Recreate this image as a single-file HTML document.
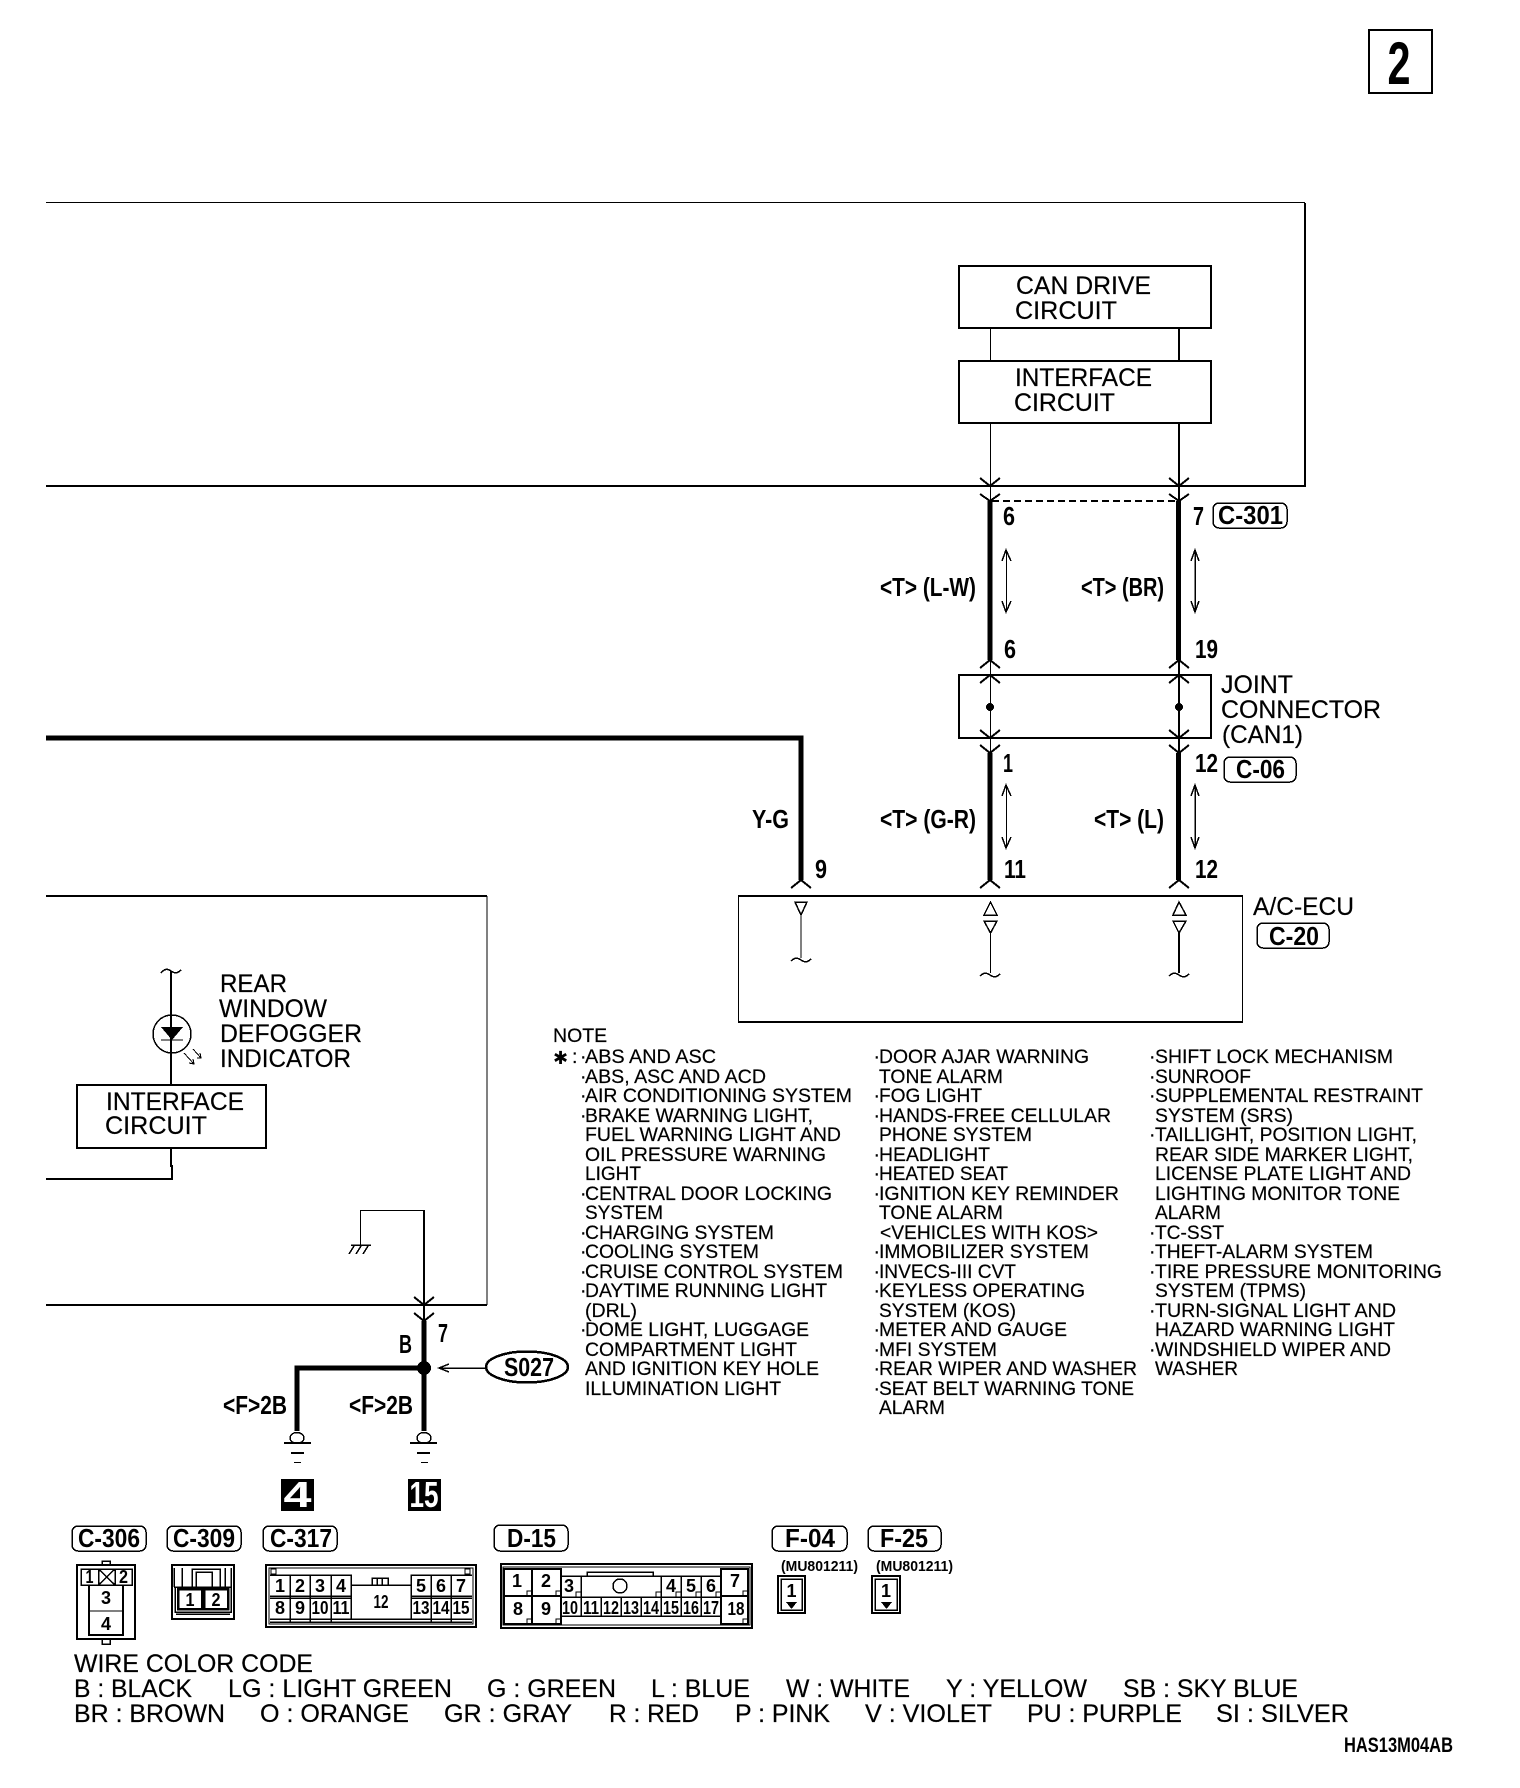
<!DOCTYPE html>
<html><head><meta charset="utf-8">
<style>
html,body{margin:0;padding:0;background:#fff}
svg{display:block;shape-rendering:crispEdges}
text{font-family:"Liberation Sans",sans-serif;fill:#000}
.r{font-size:24.6px;stroke:#000;stroke-width:.2}
.n{font-size:19.5px;stroke:#000;stroke-width:.2}
.b{font-size:26px;font-weight:bold}
.d{font-size:18px;font-weight:bold;text-anchor:middle}
.l{fill:none;stroke:#000}
</style></head><body>
<svg width="1520" height="1788" viewBox="0 0 1520 1788" xmlns="http://www.w3.org/2000/svg">
<!-- page number -->
<rect class="l" x="1369" y="30" width="63" height="63" stroke-width="2"/>
<text x="1399" y="84" font-size="60" font-weight="bold" text-anchor="middle" textLength="23" lengthAdjust="spacingAndGlyphs">2</text>

<!-- upper frame -->
<path class="l" stroke-width="1" d="M46 202.500H1305"/>
<path class="l" stroke-width="2" d="M1305 203V486H46"/>
<rect class="l" x="959" y="266" width="252" height="62" stroke-width="2"/>
<rect class="l" x="959" y="361" width="252" height="62" stroke-width="2"/>
<text class="r" x="1016" y="294" textLength="135" lengthAdjust="spacingAndGlyphs">CAN DRIVE</text>
<text class="r" x="1015" y="319" textLength="102" lengthAdjust="spacingAndGlyphs">CIRCUIT</text>
<text class="r" x="1015" y="386" textLength="137" lengthAdjust="spacingAndGlyphs">INTERFACE</text>
<text class="r" x="1014" y="411" textLength="101" lengthAdjust="spacingAndGlyphs">CIRCUIT</text>

<!-- CAN wires thin -->
<path class="l" stroke-width="1" d="M990.500 328V361M990.500 423V501"/>
<path class="l" stroke-width="2" d="M1179 328V361M1179 423V501"/>
<path class="l" stroke-width="2" d="M980 478L990 486L1000 478M980 494L990 501L1000 494M1169 478L1179 486L1189 478M1169 494L1179 501L1189 494"/>
<path class="l" stroke-width="2" stroke-dasharray="7 4" d="M992 501H1178"/>
<!-- thick -->
<path class="l" stroke-width="5" d="M990 501V660M1178.500 501V660M990 753V880M1178.500 753V880"/>
<path class="l" stroke-width="5" d="M46 738H801V880"/>
<!-- forks -->
<path class="l" stroke-width="2" d="M980 668L990 660L1000 668M1169 668L1179 660L1189 668M980 683L990 675L1000 683M1169 683L1179 675L1189 683M980 730L990 738L1000 730M1169 730L1179 738L1189 730M980 745L990 753L1000 745M1169 745L1179 753L1189 745M791 888L801 880L811 888M980 888L990 880L1000 888M1169 888L1179 880L1189 888"/>
<path class="l" stroke-width="1" d="M990.500 660V753"/>
<path class="l" stroke-width="2" d="M1179 660V753"/>
<rect class="l" x="959" y="675" width="252" height="63" stroke-width="2"/>
<circle cx="990" cy="707" r="4"/><circle cx="1179" cy="707" r="4"/>

<!-- double arrows -->
<path class="l" stroke-width="1" d="M1006.500 550V612"/>
<path class="l" stroke-width="1.500" d="M1002 561L1006 550L1011 561M1002 601L1006 612L1011 601"/>
<path class="l" stroke-width="1.500" d="M1195 550V612M1191 561L1195 550L1199 561M1191 601L1195 612L1199 601"/>
<path class="l" stroke-width="1" d="M1006.500 785V848"/>
<path class="l" stroke-width="1.500" d="M1002 796L1006 785L1011 796M1002 837L1006 848L1011 837"/>
<path class="l" stroke-width="1.500" d="M1195 785V848M1191 796L1195 785L1199 796M1191 837L1195 848L1199 837"/>

<!-- wire labels -->
<text class="b" x="1003" y="525" textLength="12" lengthAdjust="spacingAndGlyphs">6</text>
<text class="b" x="1193" y="525" textLength="11" lengthAdjust="spacingAndGlyphs">7</text>
<text class="b" x="1004" y="658" textLength="12" lengthAdjust="spacingAndGlyphs">6</text>
<text class="b" x="1195" y="658" textLength="23" lengthAdjust="spacingAndGlyphs">19</text>
<text class="b" x="1003" y="772" textLength="10" lengthAdjust="spacingAndGlyphs">1</text>
<text class="b" x="1195" y="772" textLength="23" lengthAdjust="spacingAndGlyphs">12</text>
<text class="b" x="815" y="878" textLength="12" lengthAdjust="spacingAndGlyphs">9</text>
<text class="b" x="1004" y="878" textLength="22" lengthAdjust="spacingAndGlyphs">11</text>
<text class="b" x="1195" y="878" textLength="23" lengthAdjust="spacingAndGlyphs">12</text>
<text class="b" x="880" y="596" textLength="96" lengthAdjust="spacingAndGlyphs">&lt;T&gt; (L-W)</text>
<text class="b" x="1081" y="596" textLength="83" lengthAdjust="spacingAndGlyphs">&lt;T&gt; (BR)</text>
<text class="b" x="752" y="828" textLength="37" lengthAdjust="spacingAndGlyphs">Y-G</text>
<text class="b" x="880" y="828" textLength="96" lengthAdjust="spacingAndGlyphs">&lt;T&gt; (G-R)</text>
<text class="b" x="1094" y="828" textLength="70" lengthAdjust="spacingAndGlyphs">&lt;T&gt; (L)</text>

<!-- pills -->
<g class="l" fill="none">
<rect class="l" x="1213" y="503" width="74" height="25" rx="6" stroke-width="1.500"/>
<rect class="l" x="1224" y="757" width="72" height="25" rx="6" stroke-width="1.500"/>
<rect class="l" x="1257" y="923" width="72" height="25" rx="6" stroke-width="1.500"/>
<rect class="l" x="72" y="1526" width="74" height="25" rx="6" stroke-width="1.500"/>
<rect class="l" x="167" y="1526" width="74" height="25" rx="6" stroke-width="1.500"/>
<rect class="l" x="263" y="1526" width="74" height="25" rx="6" stroke-width="1.500"/>
<rect class="l" x="494" y="1525" width="74" height="26" rx="6" stroke-width="1.500"/>
<rect class="l" x="772" y="1526" width="75" height="25" rx="6" stroke-width="1.500"/>
<rect class="l" x="868" y="1526" width="73" height="25" rx="6" stroke-width="1.500"/>
</g>
<text class="b" x="1218" y="524" textLength="65" lengthAdjust="spacingAndGlyphs">C-301</text>
<text class="b" x="1236" y="778" textLength="49" lengthAdjust="spacingAndGlyphs">C-06</text>
<text class="b" x="1269" y="945" textLength="50" lengthAdjust="spacingAndGlyphs">C-20</text>
<text class="b" x="78" y="1547" textLength="62" lengthAdjust="spacingAndGlyphs">C-306</text>
<text class="b" x="173" y="1547" textLength="62" lengthAdjust="spacingAndGlyphs">C-309</text>
<text class="b" x="270" y="1547" textLength="62" lengthAdjust="spacingAndGlyphs">C-317</text>
<text class="b" x="507" y="1547" textLength="49" lengthAdjust="spacingAndGlyphs">D-15</text>
<text class="b" x="785" y="1547" textLength="50" lengthAdjust="spacingAndGlyphs">F-04</text>
<text class="b" x="880" y="1547" textLength="48" lengthAdjust="spacingAndGlyphs">F-25</text>

<!-- joint text -->
<text class="r" x="1221" y="693" textLength="72" lengthAdjust="spacingAndGlyphs">JOINT</text>
<text class="r" x="1221" y="718" textLength="160" lengthAdjust="spacingAndGlyphs">CONNECTOR</text>
<text class="r" x="1222" y="743" textLength="81" lengthAdjust="spacingAndGlyphs">(CAN1)</text>
<text class="r" x="1253" y="915" textLength="101" lengthAdjust="spacingAndGlyphs">A/C-ECU</text>

<!-- ECU -->
<path class="l" stroke-width="1" d="M738.500 896V1022M1242.500 896V1022"/>
<path class="l" stroke-width="2" d="M738 896H1243M738 1022H1243"/>
<path class="l" stroke-width="1.500" d="M795 902H807L801 915ZM984 915H997L990.500 902ZM1173 915H1186L1179 902ZM984 921H997L990.500 933ZM1173 921H1186L1179 933Z"/>
<path class="l" stroke-width="1" d="M801 915V958M990.500 933V973"/>
<path class="l" stroke-width="2" d="M1179 933V973"/>
<path class="l" stroke-width="1.500" d="M791 961C795 957 798 958 801 960S807 963 811 959M980 976C984 972 987 973 990 975S996 978 1000 974M1169 976C1173 972 1176 973 1179 975S1185 978 1189 974"/>

<!-- lower-left frame -->
<path class="l" stroke-width="2" d="M46 896H487"/>
<path class="l" stroke-width="1" d="M487 896V1305"/>
<path class="l" stroke-width="2" d="M46 1305H487"/>
<text class="r" x="220" y="992" textLength="67" lengthAdjust="spacingAndGlyphs">REAR</text>
<text class="r" x="219" y="1017" textLength="108" lengthAdjust="spacingAndGlyphs">WINDOW</text>
<text class="r" x="220" y="1042" textLength="142" lengthAdjust="spacingAndGlyphs">DEFOGGER</text>
<text class="r" x="220" y="1067" textLength="131" lengthAdjust="spacingAndGlyphs">INDICATOR</text>
<path class="l" stroke-width="2" d="M171 971V1085"/>
<path class="l" stroke-width="1.500" d="M161 973C165 968 168 969 171 971S177 974 181 970"/>
<circle class="l" cx="172" cy="1034" r="19" stroke-width="1.500"/>
<path d="M161 1027H183L172 1040Z"/>
<path class="l" stroke-width="1" d="M161 1040H183M184 1053L194 1064M193 1049L201 1058M197 1058L201 1058L200 1053M189 1063L194 1064L193 1059"/>
<rect class="l" x="77" y="1085" width="189" height="63" stroke-width="2"/>
<text class="r" x="106" y="1110" textLength="138" lengthAdjust="spacingAndGlyphs">INTERFACE</text>
<text class="r" x="105" y="1134" textLength="102" lengthAdjust="spacingAndGlyphs">CIRCUIT</text>
<path class="l" stroke-width="2" d="M171 1148V1166H172V1179H46"/>
<path class="l" stroke-width="1" d="M424 1210.500H360.500V1245"/>
<path class="l" stroke-width="1.500" d="M351 1245H371M349 1254L354 1246M356 1254L361 1246M363 1254L368 1246"/>
<path class="l" stroke-width="2" d="M424 1210V1321M414 1297L424 1305L434 1297M414 1313L424 1321L434 1313"/>
<path class="l" stroke-width="5" d="M424 1321V1431M424 1368H297V1431"/>
<circle cx="424" cy="1368" r="7"/>
<ellipse class="l" cx="297" cy="1438" rx="7" ry="5.500" stroke-width="1.500"/>
<ellipse class="l" cx="424" cy="1438" rx="7" ry="5.500" stroke-width="1.500"/>
<path class="l" stroke-width="2" d="M284 1443H311M291 1453H304M410 1443H437M417 1453H430"/>
<path class="l" stroke-width="1" d="M294 1462.500H301M421 1462.500H428"/>
<text class="b" x="438" y="1342" textLength="10" lengthAdjust="spacingAndGlyphs">7</text>
<text class="b" x="399" y="1353" textLength="13" lengthAdjust="spacingAndGlyphs">B</text>
<text class="b" x="223" y="1414" textLength="64" lengthAdjust="spacingAndGlyphs">&lt;F&gt;2B</text>
<text class="b" x="349" y="1414" textLength="64" lengthAdjust="spacingAndGlyphs">&lt;F&gt;2B</text>
<ellipse class="l" cx="527" cy="1367" rx="41" ry="15.500" stroke-width="2.500"/>
<text class="b" x="504" y="1376" textLength="50" lengthAdjust="spacingAndGlyphs">S027</text>
<path class="l" stroke-width="1.500" d="M486 1368H439M449 1364L439 1368L449 1372"/>
<rect x="281" y="1479" width="33" height="32"/>
<rect x="408" y="1479" width="33" height="32"/>
<text x="297.500" y="1507" font-size="36" font-weight="bold" text-anchor="middle" textLength="28" lengthAdjust="spacingAndGlyphs" style="fill:#fff">4</text>
<text x="424" y="1507" font-size="36" font-weight="bold" text-anchor="middle" textLength="29" lengthAdjust="spacingAndGlyphs" style="fill:#fff">15</text>

<!-- notes -->
<text class="n" x="553" y="1042">NOTE</text>
<text x="553" y="1064" font-size="18" style="font-family:'DejaVu Sans',sans-serif;font-weight:bold">✱</text>
<text class="n" x="572" y="1063">:</text>
<g class="n">
<text class="n" x="580" y="1063">·</text><text class="n" x="585" y="1063" textLength="131" lengthAdjust="spacingAndGlyphs">ABS AND ASC</text>
<text class="n" x="580" y="1083">·</text><text class="n" x="585" y="1083" textLength="181" lengthAdjust="spacingAndGlyphs">ABS, ASC AND ACD</text>
<text class="n" x="580" y="1102">·</text><text class="n" x="585" y="1102" textLength="267" lengthAdjust="spacingAndGlyphs">AIR CONDITIONING SYSTEM</text>
<text class="n" x="580" y="1122">·</text><text class="n" x="585" y="1122" textLength="228" lengthAdjust="spacingAndGlyphs">BRAKE WARNING LIGHT,</text>
<text class="n" x="585" y="1141" textLength="256" lengthAdjust="spacingAndGlyphs">FUEL WARNING LIGHT AND</text>
<text class="n" x="585" y="1161" textLength="241" lengthAdjust="spacingAndGlyphs">OIL PRESSURE WARNING</text>
<text class="n" x="585" y="1180" textLength="56" lengthAdjust="spacingAndGlyphs">LIGHT</text>
<text class="n" x="580" y="1200">·</text><text class="n" x="585" y="1200" textLength="247" lengthAdjust="spacingAndGlyphs">CENTRAL DOOR LOCKING</text>
<text class="n" x="585" y="1219" textLength="78" lengthAdjust="spacingAndGlyphs">SYSTEM</text>
<text class="n" x="580" y="1239">·</text><text class="n" x="585" y="1239" textLength="189" lengthAdjust="spacingAndGlyphs">CHARGING SYSTEM</text>
<text class="n" x="580" y="1258">·</text><text class="n" x="585" y="1258" textLength="174" lengthAdjust="spacingAndGlyphs">COOLING SYSTEM</text>
<text class="n" x="580" y="1278">·</text><text class="n" x="585" y="1278" textLength="258" lengthAdjust="spacingAndGlyphs">CRUISE CONTROL SYSTEM</text>
<text class="n" x="580" y="1297">·</text><text class="n" x="585" y="1297" textLength="242" lengthAdjust="spacingAndGlyphs">DAYTIME RUNNING LIGHT</text>
<text class="n" x="585" y="1317" textLength="52" lengthAdjust="spacingAndGlyphs">(DRL)</text>
<text class="n" x="580" y="1336">·</text><text class="n" x="585" y="1336" textLength="224" lengthAdjust="spacingAndGlyphs">DOME LIGHT, LUGGAGE</text>
<text class="n" x="585" y="1356" textLength="212" lengthAdjust="spacingAndGlyphs">COMPARTMENT LIGHT</text>
<text class="n" x="585" y="1375" textLength="234" lengthAdjust="spacingAndGlyphs">AND IGNITION KEY HOLE</text>
<text class="n" x="585" y="1395" textLength="196" lengthAdjust="spacingAndGlyphs">ILLUMINATION LIGHT</text>

<text class="n" x="873.500" y="1063">·</text><text class="n" x="879" y="1063" textLength="210" lengthAdjust="spacingAndGlyphs">DOOR AJAR WARNING</text>
<text class="n" x="879" y="1083" textLength="124" lengthAdjust="spacingAndGlyphs">TONE ALARM</text>
<text class="n" x="873.500" y="1102">·</text><text class="n" x="879" y="1102" textLength="103" lengthAdjust="spacingAndGlyphs">FOG LIGHT</text>
<text class="n" x="873.500" y="1122">·</text><text class="n" x="879" y="1122" textLength="232" lengthAdjust="spacingAndGlyphs">HANDS-FREE CELLULAR</text>
<text class="n" x="879" y="1141" textLength="153" lengthAdjust="spacingAndGlyphs">PHONE SYSTEM</text>
<text class="n" x="873.500" y="1161">·</text><text class="n" x="879" y="1161" textLength="111" lengthAdjust="spacingAndGlyphs">HEADLIGHT</text>
<text class="n" x="873.500" y="1180">·</text><text class="n" x="879" y="1180" textLength="129" lengthAdjust="spacingAndGlyphs">HEATED SEAT</text>
<text class="n" x="873.500" y="1200">·</text><text class="n" x="879" y="1200" textLength="240" lengthAdjust="spacingAndGlyphs">IGNITION KEY REMINDER</text>
<text class="n" x="879" y="1219" textLength="124" lengthAdjust="spacingAndGlyphs">TONE ALARM</text>
<text class="n" x="880" y="1239" textLength="218" lengthAdjust="spacingAndGlyphs">&lt;VEHICLES WITH KOS&gt;</text>
<text class="n" x="873.500" y="1258">·</text><text class="n" x="879" y="1258" textLength="210" lengthAdjust="spacingAndGlyphs">IMMOBILIZER SYSTEM</text>
<text class="n" x="873.500" y="1278">·</text><text class="n" x="879" y="1278" textLength="137" lengthAdjust="spacingAndGlyphs">INVECS-III CVT</text>
<text class="n" x="873.500" y="1297">·</text><text class="n" x="879" y="1297" textLength="206" lengthAdjust="spacingAndGlyphs">KEYLESS OPERATING</text>
<text class="n" x="879" y="1317" textLength="137" lengthAdjust="spacingAndGlyphs">SYSTEM (KOS)</text>
<text class="n" x="873.500" y="1336">·</text><text class="n" x="879" y="1336" textLength="188" lengthAdjust="spacingAndGlyphs">METER AND GAUGE</text>
<text class="n" x="873.500" y="1356">·</text><text class="n" x="879" y="1356" textLength="118" lengthAdjust="spacingAndGlyphs">MFI SYSTEM</text>
<text class="n" x="873.500" y="1375">·</text><text class="n" x="879" y="1375" textLength="258" lengthAdjust="spacingAndGlyphs">REAR WIPER AND WASHER</text>
<text class="n" x="873.500" y="1395">·</text><text class="n" x="879" y="1395" textLength="255" lengthAdjust="spacingAndGlyphs">SEAT BELT WARNING TONE</text>
<text class="n" x="879" y="1414" textLength="66" lengthAdjust="spacingAndGlyphs">ALARM</text>

<text class="n" x="1149" y="1063">·</text><text class="n" x="1155" y="1063" textLength="238" lengthAdjust="spacingAndGlyphs">SHIFT LOCK MECHANISM</text>
<text class="n" x="1149" y="1083">·</text><text class="n" x="1155" y="1083" textLength="96" lengthAdjust="spacingAndGlyphs">SUNROOF</text>
<text class="n" x="1149" y="1102">·</text><text class="n" x="1155" y="1102" textLength="268" lengthAdjust="spacingAndGlyphs">SUPPLEMENTAL RESTRAINT</text>
<text class="n" x="1155" y="1122" textLength="138" lengthAdjust="spacingAndGlyphs">SYSTEM (SRS)</text>
<text class="n" x="1149" y="1141">·</text><text class="n" x="1155" y="1141" textLength="262" lengthAdjust="spacingAndGlyphs">TAILLIGHT, POSITION LIGHT,</text>
<text class="n" x="1155" y="1161" textLength="258" lengthAdjust="spacingAndGlyphs">REAR SIDE MARKER LIGHT,</text>
<text class="n" x="1155" y="1180" textLength="256" lengthAdjust="spacingAndGlyphs">LICENSE PLATE LIGHT AND</text>
<text class="n" x="1155" y="1200" textLength="245" lengthAdjust="spacingAndGlyphs">LIGHTING MONITOR TONE</text>
<text class="n" x="1155" y="1219" textLength="66" lengthAdjust="spacingAndGlyphs">ALARM</text>
<text class="n" x="1149" y="1239">·</text><text class="n" x="1155" y="1239" textLength="69" lengthAdjust="spacingAndGlyphs">TC-SST</text>
<text class="n" x="1149" y="1258">·</text><text class="n" x="1155" y="1258" textLength="218" lengthAdjust="spacingAndGlyphs">THEFT-ALARM SYSTEM</text>
<text class="n" x="1149" y="1278">·</text><text class="n" x="1155" y="1278" textLength="287" lengthAdjust="spacingAndGlyphs">TIRE PRESSURE MONITORING</text>
<text class="n" x="1155" y="1297" textLength="151" lengthAdjust="spacingAndGlyphs">SYSTEM (TPMS)</text>
<text class="n" x="1149" y="1317">·</text><text class="n" x="1155" y="1317" textLength="241" lengthAdjust="spacingAndGlyphs">TURN-SIGNAL LIGHT AND</text>
<text class="n" x="1155" y="1336" textLength="240" lengthAdjust="spacingAndGlyphs">HAZARD WARNING LIGHT</text>
<text class="n" x="1149" y="1356">·</text><text class="n" x="1155" y="1356" textLength="236" lengthAdjust="spacingAndGlyphs">WINDSHIELD WIPER AND</text>
<text class="n" x="1155" y="1375" textLength="83" lengthAdjust="spacingAndGlyphs">WASHER</text>
</g>

<!-- C-306 -->
<rect class="l" x="77" y="1565" width="58" height="74" stroke-width="2"/>
<path class="l" stroke-width="1.500" d="M102 1565V1561H110V1565M102 1639V1644H110V1639"/>
<path class="l" stroke-width="1.500" d="M81 1569H132V1585H81ZM98.500 1569V1585M115 1569V1585M98.500 1569L115 1585M115 1569L98.500 1585"/>
<path class="l" stroke-width="2" d="M89 1585V1635H123V1585"/>
<path class="l" stroke-width="1" d="M89 1611H123"/>
<text class="d" x="89.500" y="1583" textLength="8" lengthAdjust="spacingAndGlyphs">1</text>
<text class="d" x="123.500" y="1583" textLength="9" lengthAdjust="spacingAndGlyphs">2</text>
<text class="d" x="106" y="1604">3</text>
<text class="d" x="106" y="1630">4</text>

<!-- C-309 -->
<rect class="l" x="172" y="1565" width="62" height="54" stroke-width="2"/>
<path class="l" stroke-width="1.500" d="M174 1568V1587M182 1568V1587M192 1587V1569H220V1587M196 1587V1572H212V1587M225 1568V1587M231 1568V1587M174 1587H231M175 1587V1612H231V1587M176 1614H230"/>
<rect class="l" x="178" y="1589" width="24" height="20" stroke-width="2.500"/>
<rect class="l" x="204" y="1589" width="24" height="20" stroke-width="2.500"/>
<text class="d" x="190" y="1606" textLength="9" lengthAdjust="spacingAndGlyphs">1</text>
<text class="d" x="216" y="1606" textLength="9" lengthAdjust="spacingAndGlyphs">2</text>

<!-- C-317 -->
<rect class="l" x="266" y="1565" width="210" height="62" stroke-width="2"/>
<rect class="l" x="269" y="1568" width="204" height="56" stroke-width="1"/>
<rect class="l" x="271" y="1569" width="5" height="5" stroke-width="1"/>
<rect class="l" x="465" y="1569" width="5" height="5" stroke-width="1"/>
<path class="l" stroke-width="1.500" d="M270 1575H351V1620M411 1620V1575H472M351 1585H411M372 1585V1578H388V1585M377 1578V1585M382 1578V1585"/>
<path class="l" stroke-width="1.500" d="M270 1596H351M270 1598H351M411 1596H472M411 1598H472M270 1619H472M270 1622H472"/>
<path class="l" stroke-width="1.500" d="M290 1575V1622M310 1575V1622M331 1575V1622M431 1575V1622M451 1575V1622"/>
<text class="d" x="280" y="1592">1</text><text class="d" x="300" y="1592">2</text><text class="d" x="320" y="1592">3</text><text class="d" x="341" y="1592">4</text>
<text class="d" x="421" y="1592">5</text><text class="d" x="441" y="1592">6</text><text class="d" x="461" y="1592">7</text>
<text class="d" x="280" y="1614">8</text><text class="d" x="300" y="1614">9</text>
<text class="d" x="320" y="1614" textLength="17" lengthAdjust="spacingAndGlyphs">10</text>
<text class="d" x="341" y="1614" textLength="17" lengthAdjust="spacingAndGlyphs">11</text>
<text class="d" x="381" y="1608" textLength="15" lengthAdjust="spacingAndGlyphs">12</text>
<text class="d" x="421" y="1614" textLength="17" lengthAdjust="spacingAndGlyphs">13</text>
<text class="d" x="441" y="1614" textLength="17" lengthAdjust="spacingAndGlyphs">14</text>
<text class="d" x="461" y="1614" textLength="17" lengthAdjust="spacingAndGlyphs">15</text>

<!-- D-15 -->
<rect class="l" x="501" y="1564" width="251" height="64" stroke-width="2"/>
<rect class="l" x="503" y="1567" width="247" height="58" stroke-width="1"/>
<rect class="l" x="504" y="1569" width="57" height="55" stroke-width="2"/>
<rect class="l" x="721" y="1569" width="27" height="55" stroke-width="2"/>
<path class="l" stroke-width="2" d="M532 1569V1624M504 1596H561M721 1596H748"/>
<path class="l" stroke-width="1.500" d="M561 1576H721M561 1616H721M561 1597H721M581 1576V1616M661 1576V1616M681 1576V1616M701 1576V1616M601 1597V1616M621 1597V1616M641 1597V1616M587 1576V1572H653V1576"/>
<circle class="l" cx="620" cy="1586" r="7" stroke-width="1.500"/>
<path class="l" stroke-width="1" d="M527 1596V1591H532M527 1624V1619H532M556 1596V1591H561M556 1624V1619H561M743 1596V1591H748M743 1624V1619H748M576 1597V1592H581M656 1597V1592H661M676 1597V1592H681M696 1597V1592H701M716 1597V1592H721"/>
<text class="d" x="517" y="1587">1</text><text class="d" x="546" y="1587">2</text><text class="d" x="735" y="1587">7</text>
<text class="d" x="518" y="1615">8</text><text class="d" x="546" y="1615">9</text>
<text class="d" x="736" y="1615" textLength="17" lengthAdjust="spacingAndGlyphs">18</text>
<text class="d" x="569" y="1592">3</text><text class="d" x="671" y="1592">4</text><text class="d" x="691" y="1592">5</text><text class="d" x="711" y="1592">6</text>
<text class="d" x="570" y="1614" textLength="16" lengthAdjust="spacingAndGlyphs">10</text>
<text class="d" x="591" y="1614" textLength="16" lengthAdjust="spacingAndGlyphs">11</text>
<text class="d" x="611" y="1614" textLength="16" lengthAdjust="spacingAndGlyphs">12</text>
<text class="d" x="631" y="1614" textLength="16" lengthAdjust="spacingAndGlyphs">13</text>
<text class="d" x="651" y="1614" textLength="16" lengthAdjust="spacingAndGlyphs">14</text>
<text class="d" x="671" y="1614" textLength="16" lengthAdjust="spacingAndGlyphs">15</text>
<text class="d" x="691" y="1614" textLength="16" lengthAdjust="spacingAndGlyphs">16</text>
<text class="d" x="711" y="1614" textLength="16" lengthAdjust="spacingAndGlyphs">17</text>

<!-- F connectors -->
<text x="781" y="1571" font-size="15" font-weight="bold" textLength="77" lengthAdjust="spacingAndGlyphs">(MU801211)</text>
<text x="876" y="1571" font-size="15" font-weight="bold" textLength="77" lengthAdjust="spacingAndGlyphs">(MU801211)</text>
<rect class="l" x="778" y="1576" width="27" height="37" stroke-width="2"/>
<rect class="l" x="781" y="1579" width="21" height="31" stroke-width="1.500"/>
<path d="M786 1602H797L791.500 1609Z"/>
<text class="d" x="791.500" y="1597">1</text>
<rect class="l" x="872" y="1576" width="28" height="37" stroke-width="2"/>
<rect class="l" x="875" y="1579" width="22" height="31" stroke-width="1.500"/>
<path d="M881 1602H892L886.500 1609Z"/>
<text class="d" x="886" y="1597">1</text>

<!-- wire colour code -->
<text class="r" x="74" y="1672" textLength="239" lengthAdjust="spacingAndGlyphs">WIRE COLOR CODE</text>
<text class="r" x="74" y="1697" textLength="118" lengthAdjust="spacingAndGlyphs">B : BLACK</text>
<text class="r" x="228" y="1697" textLength="224" lengthAdjust="spacingAndGlyphs">LG : LIGHT GREEN</text>
<text class="r" x="487" y="1697" textLength="129" lengthAdjust="spacingAndGlyphs">G : GREEN</text>
<text class="r" x="651" y="1697" textLength="99" lengthAdjust="spacingAndGlyphs">L : BLUE</text>
<text class="r" x="786" y="1697" textLength="124" lengthAdjust="spacingAndGlyphs">W : WHITE</text>
<text class="r" x="946" y="1697" textLength="141" lengthAdjust="spacingAndGlyphs">Y : YELLOW</text>
<text class="r" x="1123" y="1697" textLength="175" lengthAdjust="spacingAndGlyphs">SB : SKY BLUE</text>
<text class="r" x="74" y="1722" textLength="151" lengthAdjust="spacingAndGlyphs">BR : BROWN</text>
<text class="r" x="260" y="1722" textLength="149" lengthAdjust="spacingAndGlyphs">O : ORANGE</text>
<text class="r" x="444" y="1722" textLength="128" lengthAdjust="spacingAndGlyphs">GR : GRAY</text>
<text class="r" x="609" y="1722" textLength="90" lengthAdjust="spacingAndGlyphs">R : RED</text>
<text class="r" x="735" y="1722" textLength="95" lengthAdjust="spacingAndGlyphs">P : PINK</text>
<text class="r" x="865" y="1722" textLength="127" lengthAdjust="spacingAndGlyphs">V : VIOLET</text>
<text class="r" x="1027" y="1722" textLength="155" lengthAdjust="spacingAndGlyphs">PU : PURPLE</text>
<text class="r" x="1216" y="1722" textLength="133" lengthAdjust="spacingAndGlyphs">SI : SILVER</text>
<text x="1344" y="1752" font-size="21" font-weight="bold" textLength="109" lengthAdjust="spacingAndGlyphs">HAS13M04AB</text>
</svg>
</body></html>
